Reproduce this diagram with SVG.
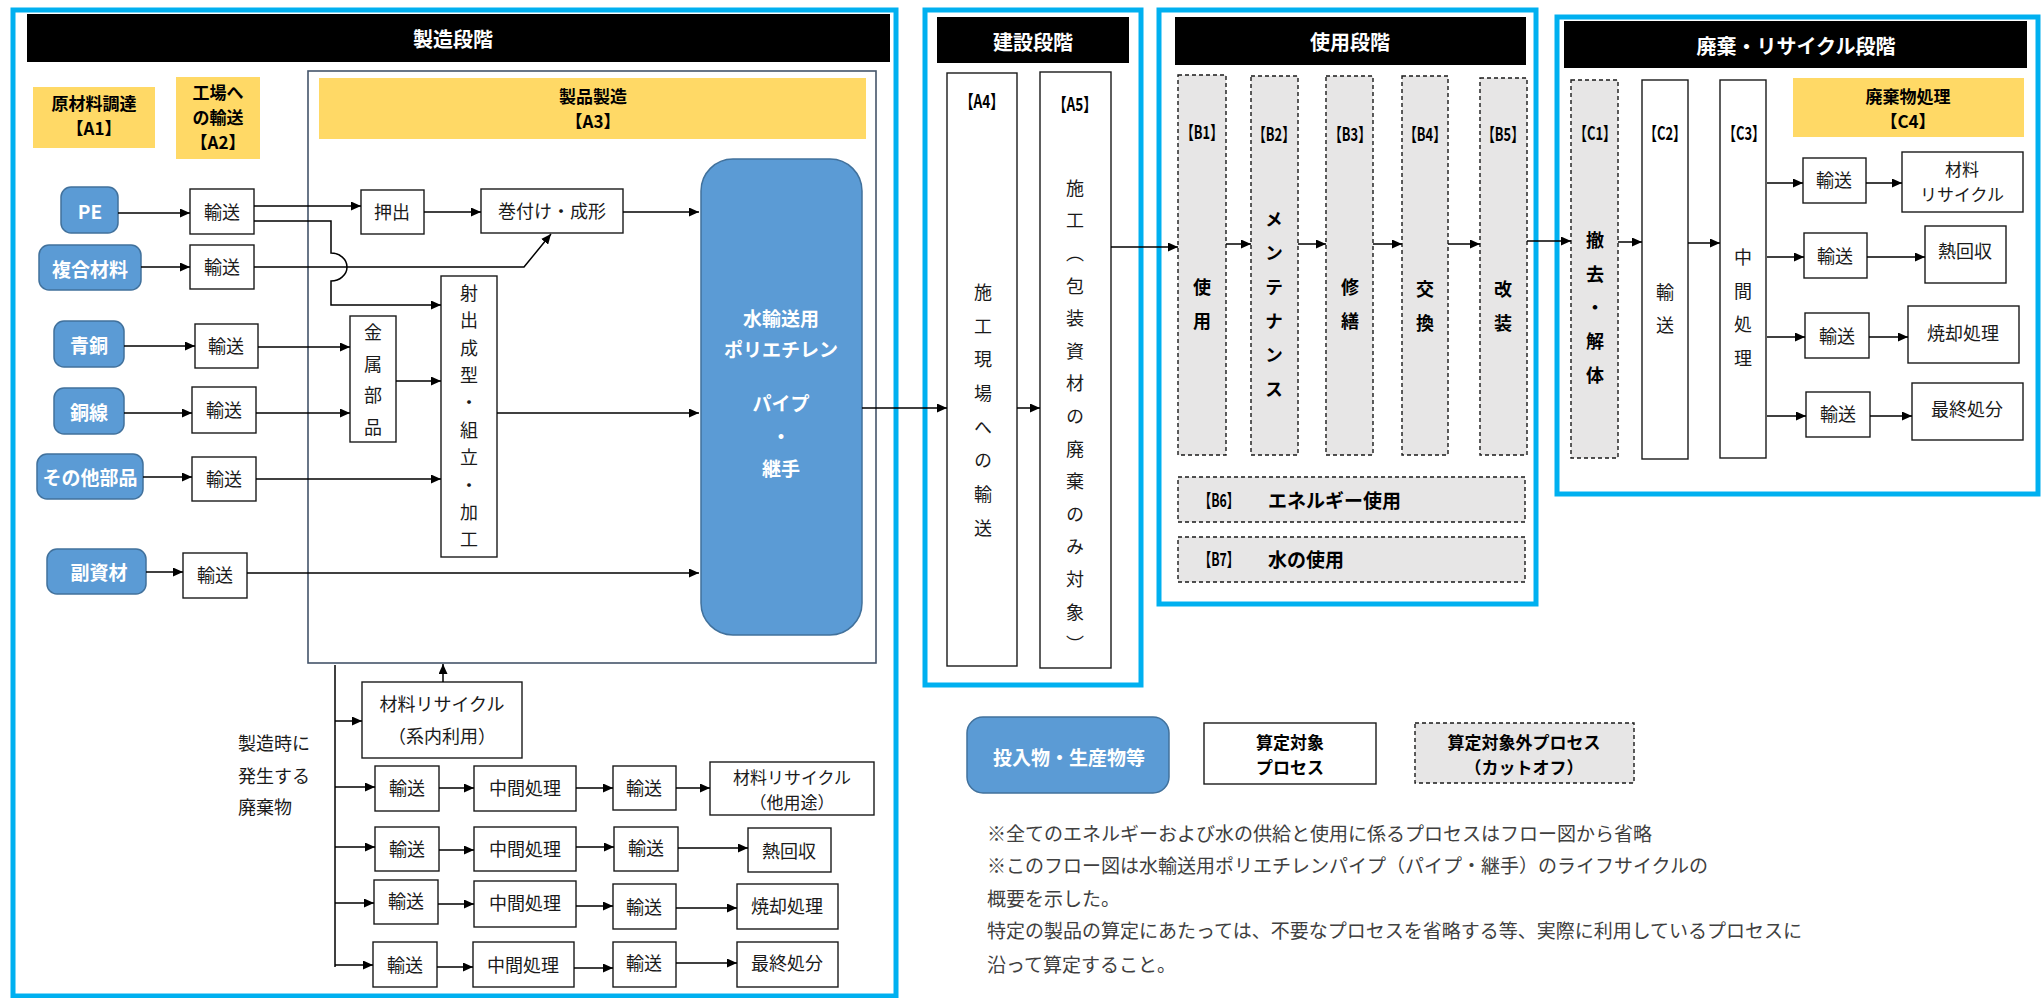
<svg xmlns="http://www.w3.org/2000/svg" width="2043" height="998" viewBox="0 0 2043 998">
<defs>
<marker id="ah" markerUnits="userSpaceOnUse" markerWidth="11" markerHeight="9" refX="10" refY="4.5" orient="auto"><path d="M0,0 L10,4.5 L0,9 z" fill="#000"/></marker>
<style>
text{font-family:"Noto Sans CJK JP","Noto Sans CJK SC",sans-serif;fill:#1a1a1a;font-size:18px;dominant-baseline:central;text-anchor:middle}
.frame{fill:none;stroke:#00B0F0;stroke-width:5}
.bar{fill:#000}
.yel{fill:#FFD966}
.inp{fill:#5B9BD5;stroke:#41719C;stroke-width:1.5}
.proc{fill:#fff;stroke:#1a1a1a;stroke-width:1.4}
.cut{fill:#E7E6E6;stroke:#1a1a1a;stroke-width:1.4;stroke-dasharray:4 3}
.a3{fill:none;stroke:#44546A;stroke-width:1.6}
.ttl{fill:#fff;font-weight:bold;font-size:20px}
.b{font-weight:bold;font-size:19px;fill:#000}
.b2{font-weight:bold;font-size:17px;fill:#000}
.s2{font-size:17px}
.w{fill:#fff;font-weight:bold;font-size:19px}
.lbl{font-weight:bold;font-size:18px;fill:#000}
.v{writing-mode:vertical-rl;text-anchor:start;dominant-baseline:central}
.l{text-anchor:start}
.note{font-size:19px;fill:#404040;text-anchor:start}
#conn path{fill:none;stroke:#000;stroke-width:1.5}
#conn .ar{marker-end:url(#ah)}
</style>
</defs>

<!-- stage frames -->
<g id="stage-manufacturing">
<rect class="frame" x="13" y="10" width="883" height="986"/>
<rect class="bar" x="27" y="14" width="863" height="48"/>
<text class="ttl" x="453" y="38">製造段階</text>
</g>
<g id="stage-construction">
<rect class="frame" x="925" y="10" width="216" height="675"/>
<rect class="bar" x="937" y="17" width="192" height="46"/>
<text class="ttl" x="1033" y="41">建設段階</text>
</g>
<g id="stage-use">
<rect class="frame" x="1159" y="10" width="377" height="594"/>
<rect class="bar" x="1175" y="17" width="351" height="48"/>
<text class="ttl" x="1350" y="41">使用段階</text>
</g>
<g id="stage-waste">
<rect class="frame" x="1557" y="17" width="481" height="477"/>
<rect class="bar" x="1564" y="21" width="463" height="47"/>
<text class="ttl" x="1796" y="45">廃棄・リサイクル段階</text>
</g>

<!-- yellow labels -->
<g id="label-A1"><rect class="yel" x="33" y="87" width="122" height="61"/>
<text class="b2"><tspan x="94" y="102">原材料調達</tspan><tspan x="94" y="127">【A1】</tspan></text></g>
<g id="label-A2"><rect class="yel" x="176" y="77" width="84" height="82"/>
<text class="b2"><tspan x="218" y="91">工場へ</tspan><tspan x="218" y="116">の輸送</tspan><tspan x="218" y="141">【A2】</tspan></text></g>
<g id="A3-area"><rect class="a3" x="308" y="71" width="568" height="592"/>
<rect class="yel" x="319" y="78" width="547" height="61"/>
<text class="b2"><tspan x="593" y="95">製品製造</tspan><tspan x="593" y="120">【A3】</tspan></text></g>

<!-- input nodes -->
<g id="in-PE"><rect class="inp" x="61" y="187" width="57" height="46" rx="10"/><text class="w" x="90" y="210">PE</text></g>
<g id="in-composite"><rect class="inp" x="39" y="245" width="102" height="45" rx="10"/><text class="w" x="90" y="268">複合材料</text></g>
<g id="in-bronze"><rect class="inp" x="54" y="321" width="70" height="46" rx="10"/><text class="w" x="89" y="344">青銅</text></g>
<g id="in-copperwire"><rect class="inp" x="54" y="388" width="70" height="46" rx="10"/><text class="w" x="89" y="411">銅線</text></g>
<g id="in-otherparts"><rect class="inp" x="37" y="454" width="106" height="45" rx="10"/><text class="w" x="90" y="476">その他部品</text></g>
<g id="in-subsidiary"><rect class="inp" x="47" y="549" width="99" height="45" rx="10"/><text class="w" x="99" y="571">副資材</text></g>

<!-- A2 transport -->
<g id="tr-PE"><rect class="proc" x="190" y="189" width="64" height="45"/><text x="222" y="211">輸送</text></g>
<g id="tr-composite"><rect class="proc" x="190" y="245" width="64" height="44"/><text x="222" y="266">輸送</text></g>
<g id="tr-bronze"><rect class="proc" x="195" y="324" width="63" height="44"/><text x="226" y="345">輸送</text></g>
<g id="tr-copperwire"><rect class="proc" x="192" y="387" width="64" height="46"/><text x="224" y="409">輸送</text></g>
<g id="tr-otherparts"><rect class="proc" x="192" y="457" width="64" height="44"/><text x="224" y="478">輸送</text></g>
<g id="tr-subsidiary"><rect class="proc" x="183" y="553" width="64" height="45"/><text x="215" y="574">輸送</text></g>

<!-- A3 processes -->
<g id="extrusion"><rect class="proc" x="361" y="190" width="63" height="44"/><text x="392" y="211">押出</text></g>
<g id="winding"><rect class="proc" x="481" y="189" width="142" height="44"/><text x="552" y="210">巻付け・成形</text></g>
<g id="metal-parts"><rect class="proc" x="350" y="316" width="46" height="126"/><text class="v" x="373" y="323" style="letter-spacing:13.7px">金属部品</text></g>
<g id="injection"><rect class="proc" x="441" y="276" width="56" height="281"/><text class="v" x="469" y="284" style="letter-spacing:9.4px">射出成型・組立・加工</text></g>
<g id="product"><rect class="inp" x="701" y="159" width="161" height="476" rx="32"/>
<text class="w"><tspan x="781" y="317">水輸送用</tspan><tspan x="781" y="348">ポリエチレン</tspan><tspan x="781" y="402">パイプ</tspan><tspan x="781" y="435">・</tspan><tspan x="781" y="467">継手</tspan></text></g>

<!-- manufacturing waste -->
<g id="mfg-waste-label"><text class="l"><tspan x="238" y="742">製造時に</tspan><tspan x="238" y="775">発生する</tspan><tspan x="238" y="806">廃棄物</tspan></text></g>
<g id="recycle-internal"><rect class="proc" x="362" y="682" width="160" height="76"/><text><tspan x="442" y="703">材料リサイクル</tspan><tspan x="442" y="735">（系内利用）</tspan></text></g>
<g id="w1-tr1"><rect class="proc" x="375" y="766" width="64" height="45"/><text x="407" y="787">輸送</text></g>
<g id="w1-mid"><rect class="proc" x="474" y="766" width="102" height="45"/><text x="525" y="787">中間処理</text></g>
<g id="w1-tr2"><rect class="proc" x="613" y="766" width="63" height="44"/><text x="644" y="787">輸送</text></g>
<g id="w1-recycle"><rect class="proc" x="710" y="762" width="164" height="53"/><text class="s2"><tspan x="792" y="776">材料リサイクル</tspan><tspan x="792" y="801">（他用途）</tspan></text></g>
<g id="w2-tr1"><rect class="proc" x="375" y="827" width="64" height="44"/><text x="407" y="848">輸送</text></g>
<g id="w2-mid"><rect class="proc" x="474" y="827" width="102" height="44"/><text x="525" y="848">中間処理</text></g>
<g id="w2-tr2"><rect class="proc" x="614" y="827" width="64" height="44"/><text x="646" y="847">輸送</text></g>
<g id="w2-heat"><rect class="proc" x="748" y="828" width="83" height="44"/><text x="789" y="850">熱回収</text></g>
<g id="w3-tr1"><rect class="proc" x="374" y="880" width="64" height="44"/><text x="406" y="900">輸送</text></g>
<g id="w3-mid"><rect class="proc" x="474" y="881" width="102" height="46"/><text x="525" y="902">中間処理</text></g>
<g id="w3-tr2"><rect class="proc" x="613" y="884" width="63" height="45"/><text x="644" y="906">輸送</text></g>
<g id="w3-incin"><rect class="proc" x="737" y="884" width="101" height="45"/><text x="787" y="905">焼却処理</text></g>
<g id="w4-tr1"><rect class="proc" x="373" y="942" width="64" height="45"/><text x="405" y="964">輸送</text></g>
<g id="w4-mid"><rect class="proc" x="473" y="942" width="101" height="45"/><text x="523" y="964">中間処理</text></g>
<g id="w4-tr2"><rect class="proc" x="613" y="942" width="63" height="45"/><text x="644" y="962">輸送</text></g>
<g id="w4-final"><rect class="proc" x="737" y="942" width="101" height="45"/><text x="787" y="962">最終処分</text></g>

<!-- construction -->
<g id="A4"><rect class="proc" x="947" y="73" width="70" height="593"/>
<text class="lbl" x="982" y="100" textLength="44" lengthAdjust="spacingAndGlyphs">【A4】</text>
<text class="v" x="983" y="283" style="letter-spacing:15.7px">施工現場への輸送</text></g>
<g id="A5"><rect class="proc" x="1040" y="72" width="71" height="596"/>
<text class="lbl" x="1075" y="103" textLength="44" lengthAdjust="spacingAndGlyphs">【A5】</text>
<text class="v" x="1075" y="179" style="letter-spacing:14.6px">施工（包装資材の廃棄のみ対象）</text></g>

<!-- use -->
<g id="B1"><rect class="cut" x="1178" y="75" width="48" height="380"/><text class="lbl" x="1202" y="131" textLength="42" lengthAdjust="spacingAndGlyphs">【B1】</text><text class="v lbl" x="1202" y="278" style="letter-spacing:16px">使用</text></g>
<g id="B2"><rect class="cut" x="1251" y="76" width="47" height="379"/><text class="lbl" x="1274" y="133" textLength="42" lengthAdjust="spacingAndGlyphs">【B2】</text><text class="v lbl" x="1274" y="210" style="letter-spacing:16px">メンテナンス</text></g>
<g id="B3"><rect class="cut" x="1326" y="76" width="47" height="379"/><text class="lbl" x="1350" y="133" textLength="42" lengthAdjust="spacingAndGlyphs">【B3】</text><text class="v lbl" x="1350" y="278" style="letter-spacing:16px">修繕</text></g>
<g id="B4"><rect class="cut" x="1402" y="76" width="46" height="379"/><text class="lbl" x="1425" y="133" textLength="42" lengthAdjust="spacingAndGlyphs">【B4】</text><text class="v lbl" x="1425" y="280" style="letter-spacing:16px">交換</text></g>
<g id="B5"><rect class="cut" x="1480" y="78" width="47" height="377"/><text class="lbl" x="1503" y="133" textLength="42" lengthAdjust="spacingAndGlyphs">【B5】</text><text class="v lbl" x="1503" y="280" style="letter-spacing:16px">改装</text></g>
<g id="B6"><rect class="cut" x="1178" y="477" width="347" height="45"/><text class="lbl l" x="1199" y="499" textLength="40" lengthAdjust="spacingAndGlyphs">【B6】</text><text class="lbl l" x="1268" y="499" style="font-size:19px">エネルギー使用</text></g>
<g id="B7"><rect class="cut" x="1178" y="537" width="347" height="45"/><text class="lbl l" x="1199" y="558" textLength="40" lengthAdjust="spacingAndGlyphs">【B7】</text><text class="lbl l" x="1268" y="558" style="font-size:19px">水の使用</text></g>

<!-- waste stage -->
<g id="C1"><rect class="cut" x="1571" y="80" width="47" height="378"/><text class="lbl" x="1595" y="132" textLength="42" lengthAdjust="spacingAndGlyphs">【C1】</text><text class="v lbl" x="1595" y="231" style="letter-spacing:15.7px">撤去・解体</text></g>
<g id="C2"><rect class="proc" x="1642" y="80" width="46" height="379"/><text class="lbl" x="1665" y="132" textLength="42" lengthAdjust="spacingAndGlyphs">【C2】</text><text class="v" x="1665" y="283" style="letter-spacing:15px">輸送</text></g>
<g id="C3"><rect class="proc" x="1720" y="80" width="46" height="378"/><text class="lbl" x="1744" y="132" textLength="42" lengthAdjust="spacingAndGlyphs">【C3】</text><text class="v" x="1743" y="248" style="letter-spacing:15.7px">中間処理</text></g>
<g id="label-C4"><rect class="yel" x="1793" y="78" width="231" height="59"/><text class="b2"><tspan x="1908" y="95">廃棄物処理</tspan><tspan x="1908" y="120">【C4】</tspan></text></g>
<g id="c4-tr1"><rect class="proc" x="1803" y="158" width="63" height="45"/><text x="1834" y="179">輸送</text></g>
<g id="c4-recycle"><rect class="proc" x="1902" y="152" width="121" height="60"/><text class="s2"><tspan x="1962" y="168">材料</tspan><tspan x="1962" y="193">リサイクル</tspan></text></g>
<g id="c4-tr2"><rect class="proc" x="1804" y="233" width="63" height="45"/><text x="1835" y="255">輸送</text></g>
<g id="c4-heat"><rect class="proc" x="1925" y="226" width="81" height="57"/><text x="1965" y="250">熱回収</text></g>
<g id="c4-tr3"><rect class="proc" x="1805" y="313" width="64" height="45"/><text x="1837" y="335">輸送</text></g>
<g id="c4-incin"><rect class="proc" x="1908" y="306" width="111" height="57"/><text x="1963" y="332">焼却処理</text></g>
<g id="c4-tr4"><rect class="proc" x="1806" y="392" width="64" height="45"/><text x="1838" y="413">輸送</text></g>
<g id="c4-final"><rect class="proc" x="1912" y="383" width="111" height="57"/><text x="1967" y="408">最終処分</text></g>

<!-- legend -->
<g id="legend-input"><rect class="inp" x="967" y="717" width="202" height="76" rx="16"/><text class="w" x="1069" y="756">投入物・生産物等</text></g>
<g id="legend-process"><rect class="proc" x="1204" y="723" width="172" height="61"/><text class="b2"><tspan x="1290" y="741">算定対象</tspan><tspan x="1290" y="766">プロセス</tspan></text></g>
<g id="legend-cutoff"><rect class="cut" x="1415" y="723" width="219" height="60"/><text class="b2"><tspan x="1524" y="741">算定対象外プロセス</tspan><tspan x="1524" y="766">（カットオフ）</tspan></text></g>

<g id="notes">
<text class="note" x="987" y="832">※全てのエネルギーおよび水の供給と使用に係るプロセスはフロー図から省略</text>
<text class="note" x="987" y="864">※このフロー図は水輸送用ポリエチレンパイプ（パイプ・継手）のライフサイクルの</text>
<text class="note" x="987" y="897">概要を示した。</text>
<text class="note" x="987" y="929">特定の製品の算定にあたっては、不要なプロセスを省略する等、実際に利用しているプロセスに</text>
<text class="note" x="987" y="963">沿って算定すること。</text>
</g>

<!-- connectors -->
<g id="conn">
<path class="ar" d="M118,213 H190"/>
<path class="ar" d="M141,267 H190"/>
<path class="ar" d="M124,346 H195"/>
<path class="ar" d="M124,413 H192"/>
<path class="ar" d="M143,477 H192"/>
<path class="ar" d="M146,572 H183"/>
<path class="ar" d="M254,206 H361"/>
<path class="ar" d="M254,221 H331 V253 A16,14 0 0 1 331,281 V305 H441"/>
<path class="ar" d="M254,267 H524 L551,234"/>
<path class="ar" d="M258,347 H350"/>
<path class="ar" d="M256,413 H350"/>
<path class="ar" d="M256,479 H441"/>
<path class="ar" d="M247,573 H699"/>
<path class="ar" d="M424,212 H481"/>
<path class="ar" d="M623,212 H699"/>
<path class="ar" d="M396,381 H441"/>
<path class="ar" d="M497,413 H699"/>
<path class="ar" d="M862,408 H947"/>
<path class="ar" d="M1017,408 H1040"/>
<path class="ar" d="M1111,247 H1178"/>
<path class="ar" d="M1226,244 H1251"/>
<path class="ar" d="M1298,244 H1326"/>
<path class="ar" d="M1373,244 H1402"/>
<path class="ar" d="M1448,244 H1480"/>
<path class="ar" d="M1527,241 H1571"/>
<path class="ar" d="M1618,242 H1642"/>
<path class="ar" d="M1688,243 H1720"/>
<path class="ar" d="M1767,183 H1803"/>
<path class="ar" d="M1767,257 H1804"/>
<path class="ar" d="M1767,337 H1805"/>
<path class="ar" d="M1767,416 H1806"/>
<path class="ar" d="M1866,183 H1902"/>
<path class="ar" d="M1867,257 H1925"/>
<path class="ar" d="M1869,337 H1908"/>
<path class="ar" d="M1870,416 H1912"/>
<path d="M335,665 V967"/>
<path class="ar" d="M443,682 V664"/>
<path class="ar" d="M335,721 H362"/>
<path class="ar" d="M335,787 H375"/>
<path class="ar" d="M439,788 H474"/>
<path class="ar" d="M576,788 H613"/>
<path class="ar" d="M676,788 H710"/>
<path class="ar" d="M335,847 H375"/>
<path class="ar" d="M439,850 H474"/>
<path class="ar" d="M576,847 H614"/>
<path class="ar" d="M678,848 H748"/>
<path class="ar" d="M335,903 H374"/>
<path class="ar" d="M438,904 H474"/>
<path class="ar" d="M576,906 H613"/>
<path class="ar" d="M676,908 H737"/>
<path class="ar" d="M335,965 H373"/>
<path class="ar" d="M437,967 H473"/>
<path class="ar" d="M574,968 H613"/>
<path class="ar" d="M676,963 H737"/>
</g>
</svg>
